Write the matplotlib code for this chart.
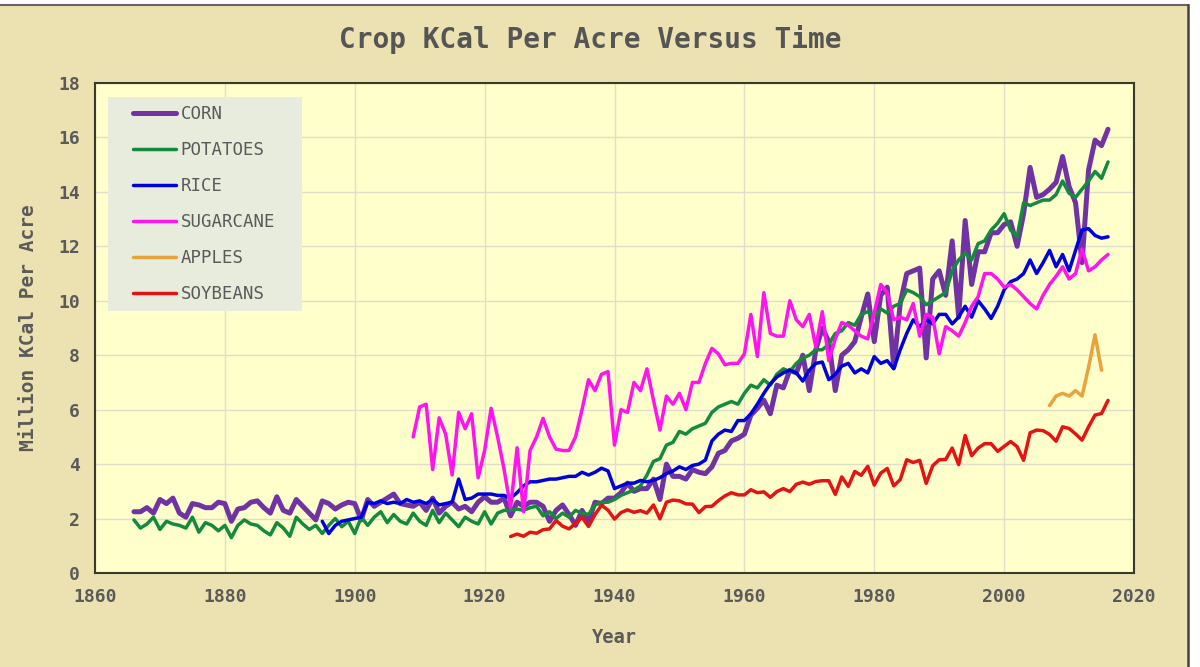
import numpy as np
import matplotlib.pyplot as plt
from matplotlib.patches import Rectangle
from matplotlib.lines import Line2D

# ---- data (million kcal per acre), one value per year ----
corn_start = 1866
corn = [2.25, 2.25, 2.4, 2.2, 2.7, 2.55, 2.75, 2.2, 2.05, 2.55,
        2.5, 2.4, 2.4, 2.6, 2.55, 1.9, 2.35, 2.4, 2.6, 2.65,
        2.4, 2.2, 2.8, 2.3, 2.2, 2.7, 2.45, 2.2, 1.95, 2.65,
        2.55, 2.35, 2.5, 2.6, 2.55, 1.95, 2.7, 2.45, 2.6, 2.75,
        2.9, 2.55, 2.5, 2.45, 2.6, 2.3, 2.75, 2.2, 2.45, 2.6,
        2.35, 2.45, 2.25, 2.6, 2.8, 2.6, 2.6, 2.75, 2.1, 2.6,
        2.45, 2.6, 2.6, 2.45, 1.9, 2.3, 2.5, 2.15, 1.75, 2.3,
        1.9, 2.6, 2.55, 2.75, 2.75, 2.95, 3.3, 3.0, 3.1, 3.1,
        3.45, 2.7, 4.0, 3.55, 3.55, 3.45, 3.8, 3.7, 3.65, 3.9,
        4.4, 4.5, 4.85, 4.95, 5.1, 5.8, 6.05, 6.35, 5.85, 6.9,
        6.8, 7.45, 7.35, 8.0, 6.7, 8.2, 9.0, 8.5, 6.7, 8.0,
        8.2, 8.5, 9.4, 10.25, 8.5, 10.2, 10.5, 7.55, 9.9, 11.0,
        11.1, 11.2, 7.9, 10.8, 11.1, 10.2, 12.2, 9.4, 12.95, 10.6,
        11.8, 11.8, 12.5, 12.5, 12.8, 12.9, 12.0, 13.2, 14.9, 13.8,
        13.9, 14.1, 14.35, 15.3, 14.2, 13.6, 11.4, 14.8, 15.9, 15.7,
        16.3]

potatoes_start = 1866
potatoes = [1.95, 1.65, 1.8, 2.05, 1.6, 1.9, 1.8, 1.75, 1.65, 2.05,
            1.5, 1.85, 1.75, 1.55, 1.75, 1.3, 1.75, 1.95, 1.8, 1.75,
            1.55, 1.4, 1.85, 1.65, 1.35, 2.05, 1.8, 1.6, 1.75, 1.45,
            1.75, 2.0, 1.7, 1.9, 1.45, 2.05, 1.75, 2.05, 2.25, 1.85,
            2.15, 1.9, 1.8, 2.2, 1.9, 1.75, 2.3, 1.85, 2.2, 1.95,
            1.7, 2.05, 1.9, 1.8, 2.25, 1.8, 2.2, 2.3, 2.3, 2.35,
            2.3, 2.4, 2.45, 2.1, 2.25, 2.0, 2.2, 2.05, 2.3, 2.2,
            2.15, 2.5, 2.6, 2.6, 2.7, 2.85, 2.95, 3.05, 3.2, 3.6,
            4.1, 4.2, 4.7, 4.8, 5.2, 5.1, 5.3, 5.4, 5.5, 5.9,
            6.1, 6.2, 6.3, 6.2, 6.6, 6.9, 6.8, 7.1, 6.9, 7.3,
            7.5, 7.4, 7.7, 7.9, 8.0, 8.2, 8.2, 8.4, 8.8, 8.9,
            9.2, 9.1, 9.5, 9.6, 9.4, 9.7, 9.55, 9.8, 9.9, 10.4,
            10.3, 10.15, 9.85, 10.0, 10.15, 10.3, 11.1, 11.5, 11.75, 11.5,
            12.1, 12.2, 12.6, 12.85, 13.2, 12.6, 12.35, 13.6, 13.5, 13.6,
            13.7, 13.7, 13.9, 14.4, 13.95, 13.8, 14.1, 14.4, 14.75, 14.5,
            15.1]

rice_start = 1895
rice = [1.9, 1.45, 1.75, 1.9, 1.95, 2.0, 2.05, 2.6, 2.55, 2.65,
        2.55, 2.6, 2.55, 2.7, 2.6, 2.65, 2.55, 2.7, 2.5, 2.55,
        2.6, 3.45, 2.7, 2.75, 2.9, 2.9, 2.9, 2.85, 2.85, 2.75,
        2.95, 3.2, 3.35, 3.35, 3.4, 3.45, 3.45, 3.5, 3.55, 3.55,
        3.7, 3.6, 3.7, 3.85, 3.75, 3.1, 3.2, 3.3, 3.3, 3.4,
        3.35, 3.4, 3.5, 3.65, 3.75, 3.9, 3.8, 3.95, 4.0, 4.15,
        4.85, 5.1, 5.25, 5.2, 5.6, 5.6, 5.85, 6.2, 6.6, 6.95,
        7.2, 7.35, 7.45, 7.35, 7.05, 7.45, 7.7, 7.75, 7.1, 7.3,
        7.6, 7.7, 7.35, 7.5, 7.35, 7.95, 7.7, 7.8, 7.5, 8.2,
        8.8, 9.3, 9.05, 9.3, 9.15, 9.5, 9.5, 9.15, 9.4, 9.8,
        9.4, 10.0, 9.7, 9.35, 9.8, 10.4, 10.7, 10.8, 11.0, 11.5,
        11.0, 11.4, 11.85, 11.25, 11.7, 11.1, 11.85, 12.6, 12.65, 12.4,
        12.3, 12.35]

sugarcane_start = 1909
sugarcane = [5.0, 6.1, 6.2, 3.8, 5.7, 5.1, 3.6, 5.9, 5.3, 5.85,
             3.5, 4.5, 6.05, 5.0, 3.8, 2.4, 4.6, 2.25, 4.5, 5.0,
             5.68, 5.0, 4.55, 4.5, 4.5, 5.0, 6.0, 7.1, 6.7, 7.3,
             7.4, 4.7, 6.0, 5.9, 7.0, 6.7, 7.5, 6.35, 5.25, 6.5,
             6.2, 6.6, 6.0, 7.0, 7.0, 7.7, 8.25, 8.05, 7.65, 7.7,
             7.7, 8.05, 9.5, 7.95, 10.3, 8.8, 8.7, 8.7, 10.0, 9.3,
             9.05, 9.5, 8.3, 9.6, 7.8, 8.6, 9.2, 9.1, 8.9, 8.7,
             8.6, 9.55, 10.6, 10.3, 9.3, 9.4, 9.3, 9.9, 8.7, 9.5,
             9.4, 8.05, 9.05, 8.9, 8.7, 9.2, 9.8, 10.15, 11.0, 11.0,
             10.8, 10.5, 10.6, 10.4, 10.15, 9.9, 9.7, 10.2, 10.6, 10.9,
             11.25, 10.8, 11.0, 11.9, 11.1, 11.25, 11.5, 11.7]

apples_start = 2007
apples = [6.15, 6.5, 6.6, 6.5, 6.7, 6.5, 7.55, 8.75, 7.45]

soybeans_start = 1924
soybeans = [1.34, 1.43, 1.35, 1.50, 1.46, 1.59, 1.62, 1.93, 1.72, 1.62,
            1.82, 2.05, 1.71, 2.15, 2.49, 2.31, 1.98, 2.22, 2.32, 2.23,
            2.29, 2.20, 2.50, 1.99, 2.60, 2.68, 2.65, 2.54, 2.53, 2.22,
            2.44, 2.45, 2.66, 2.83, 2.95, 2.87, 2.87, 3.06, 2.95, 2.98,
            2.78, 2.99, 3.10, 2.99, 3.26, 3.34, 3.26, 3.36, 3.39, 3.39,
            2.89, 3.53, 3.18, 3.73, 3.59, 3.92, 3.23, 3.67, 3.84, 3.20,
            3.43, 4.16, 4.06, 4.14, 3.29, 3.94, 4.16, 4.17, 4.59, 3.98,
            5.05, 4.31, 4.59, 4.75, 4.75, 4.47, 4.65, 4.83, 4.64, 4.14,
            5.15, 5.25, 5.23, 5.09, 4.84, 5.37, 5.31, 5.11, 4.88, 5.37,
            5.80, 5.86, 6.34]

series = [
    ("CORN", corn_start, corn, "#7133A3", 3.6),
    ("POTATOES", potatoes_start, potatoes, "#138A3E", 2.5),
    ("RICE", rice_start, rice, "#0000DD", 2.5),
    ("SUGARCANE", sugarcane_start, sugarcane, "#FF14F0", 2.5),
    ("APPLES", apples_start, apples, "#E8A33C", 2.5),
    ("SOYBEANS", soybeans_start, soybeans, "#E41414", 2.5),
]

TEXT = "#5a5a5a"
MONO = "DejaVu Sans Mono"

fig = plt.figure(figsize=(12, 6.67), dpi=100, facecolor="white")

# beige screenshot panel with a dark top and right border
fig.patches.append(Rectangle((0, 0), 1188 / 1200, 662 / 667, transform=fig.transFigure,
                             facecolor="#ECE1B0", edgecolor="none", zorder=-5))
fig.lines.append(Line2D([0, 1188 / 1200], [662 / 667, 662 / 667], transform=fig.transFigure,
                        color="#666666", lw=1.5, zorder=-4))
fig.lines.append(Line2D([1188 / 1200, 1188 / 1200], [0, 662 / 667], transform=fig.transFigure,
                        color="#444444", lw=1.8, zorder=-4))

ax = fig.add_axes([95 / 1200, 94 / 667, 1039 / 1200, 490 / 667])
ax.set_facecolor("#FFFFCC")

for name, start, vals, color, lw in series:
    years = np.arange(start, start + len(vals))
    ax.plot(years, vals, color=color, lw=lw, label=name,
            solid_joinstyle="round", solid_capstyle="round")

ax.set_xlim(1860, 2020)
ax.set_ylim(0, 18)
ax.set_xticks(range(1860, 2021, 20))
ax.set_yticks(range(0, 19, 2))
ax.grid(True, color="#E0DECB", lw=1)
ax.set_axisbelow(True)
ax.tick_params(length=0, labelsize=13, labelcolor=TEXT, pad=11)
for lab in ax.get_xticklabels() + ax.get_yticklabels():
    lab.set_fontfamily(MONO)
    lab.set_fontweight("bold")
for sp in ax.spines.values():
    sp.set_color("#3a3a2a")
    sp.set_linewidth(1.5)

ax.set_xlabel("Year", fontsize=13.5, fontweight="bold", color=TEXT, family=MONO)
ax.set_ylabel("Million KCal Per Acre", fontsize=14, fontweight="bold", color=TEXT, family=MONO)
ax.xaxis.set_label_coords(0.5, -0.112)
ax.yaxis.set_label_coords(-0.055, 0.5)

fig.text(590 / 1200, 627 / 667, "Crop KCal Per Acre Versus Time", ha="center", va="center",
         fontsize=20, fontweight="bold", color="#555555", family=MONO)

# legend panel
ax.add_patch(Rectangle((13 / 1039, 262 / 490), 194 / 1039, 214 / 490, transform=ax.transAxes,
                       facecolor="#E8ECDC", edgecolor="none", zorder=2.5))
leg = ax.legend(loc="upper left", bbox_to_anchor=(38 / 1039, 468 / 490), frameon=False,
                borderpad=0, borderaxespad=0, handlelength=2.45, handletextpad=0.3,
                labelspacing=1.04, prop={"family": MONO, "size": 12.5})
leg.set_zorder(3)
for t in leg.get_texts():
    t.set_color(TEXT)

fig.savefig("out.png", dpi=100, facecolor=fig.get_facecolor())
